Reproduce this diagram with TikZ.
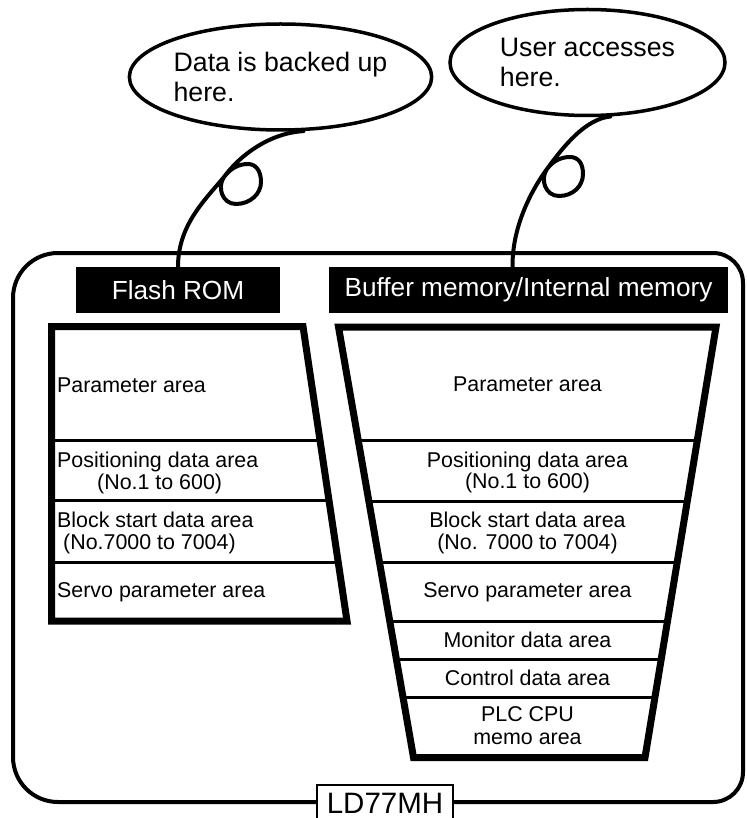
\documentclass[tikz,border=0pt]{standalone}
\usepackage{fontspec}
\setmainfont{Liberation Sans}
\usetikzlibrary{shapes.geometric,calc}
\tikzset{
  body/.style={font=\fontsize{21.4}{22}\selectfont, inner sep=0pt, align=center},
  bodyl/.style={font=\fontsize{21.4}{22}\selectfont, inner sep=0pt, align=left, anchor=west},
  hdr/.style={fill=black, text=white, font=\fontsize{26.2}{30}\selectfont, inner sep=0pt, minimum height=46pt},
  bubble/.style={ellipse, draw, line width=3.5pt, minimum width=275pt, minimum height=106pt, inner sep=0pt, align=left, font=\fontsize{26.7}{30}\selectfont},
  tailline/.style={line width=4pt, line cap=round},
  outerframe/.style={line width=4pt},
  memborder/.style={line width=7pt, line join=miter},
  rowline/.style={line width=3pt},
  modlabel/.style={draw, fill=white, line width=2pt, minimum width=136pt, inner xsep=0pt, inner ysep=8pt, font=\fontsize{29.5}{32}\selectfont}
}
\begin{document}
\begin{tikzpicture}[x=1pt, y=-1pt]
\useasboundingbox (0,0) rectangle (746,818);
\clip (0,0) rectangle (746,818);

% outer module frame
\draw[outerframe] (13,298) .. controls (13,273.1) and (33.1,253) .. (58,253)
  -- (713,253) .. controls (729.6,253) and (743,266.4) .. (743,283)
  -- (743,772) .. controls (743,788.6) and (729.6,802) .. (713,802)
  -- (58,802) .. controls (33.1,802) and (13,781.9) .. (13,757) -- cycle;

% module label
\node[modlabel, anchor=north] (ld) at (385,784) {LD77MH};

% headers
\node[hdr, minimum width=204pt] (h1) at (178,290) {Flash ROM};
\node[hdr, minimum width=399pt] (h2) at (528.5,290) {Buffer memory/Internal memory};

% callouts
\node[bubble] (c1) at (280.5,77) {Data is backed up\\here.};
\node[bubble] (c2) at (587.5,62.5) {User accesses\\here.};

\coordinate (t1s) at (c1.-67);
\coordinate (t2s) at (c2.-67);
\coordinate (h2top) at ($(h2.north west)!0.46!(h2.north east)$);

\draw[tailline] (t1s) .. controls (270,133) and (240,155) .. (224,177)
  .. controls (217,187) and (222,204) .. (236,204)
  .. controls (250,204) and (261,194) .. (261,182)
  .. controls (261,171) and (256,164) .. (248,164)
  .. controls (238,164) and (230,169) .. (224,177)
  .. controls (205,200) and (178,225) .. (h1.north);

\draw[tailline] (t2s) .. controls (585,119) and (563,147) .. (547,169)
  .. controls (540,179) and (545,196) .. (559,196)
  .. controls (573,196) and (583,186) .. (583,174)
  .. controls (583,163) and (578,157) .. (570,157)
  .. controls (561,157) and (553,161) .. (547,169)
  .. controls (533,188) and (512,225) .. (h2top);

% Flash ROM block
\coordinate (LA) at (51.5,326.5);
\coordinate (LB) at (303,326.5);
\coordinate (LC) at (347,621);
\coordinate (LD) at (51.5,621);
\foreach \t in {0.3854,0.5925,0.8014}
  \draw[rowline] ($(LA)!\t!(LD)$) -- ($(LB)!\t!(LC)$);
\draw[memborder] (LA) -- (LB) -- (LC) -- (LD) -- cycle;

\node[bodyl] (f1) at (57,385.7) {Parameter area};
\node[bodyl] (f2) at (57,472.5) {Positioning data area\\\hspace*{40pt}(No.1 to 600)};
\node[bodyl] (f3) at (57,532.7) {Block start data area\\\hspace*{6pt}(No.7000 to 7004)};
\node[bodyl] (f4) at (57,592.7) {Servo parameter area};

% Buffer memory block
\coordinate (RA) at (338.5,327);
\coordinate (RB) at (716,327);
\coordinate (RC) at (645,757.5);
\coordinate (RD) at (413.5,757.5);
\foreach \t in {0.2625,0.4042,0.5459,0.6852,0.7712,0.8595}
  \draw[rowline] ($(RA)!\t!(RD)$) -- ($(RB)!\t!(RC)$);
\draw[memborder] (RA) -- (RB) -- (RC) -- (RD) -- cycle;

\node[body] (b1) at (527.5,384.7) {Parameter area};
\node[body, font=\fontsize{21.4}{21}\selectfont] (b2) at (527.5,472.5) {Positioning data area\\(No.1 to 600)};
\node[body] (b3) at (527.5,532.7) {Block start data area\\(No. 7000 to 7004)};
\node[body] (b4) at (527.5,592.7) {Servo parameter area};
\node[body] (b5) at (527.5,639.5) {Monitor data area};
\node[body] (b6) at (527.5,677.5) {Control data area};
\node[body, font=\fontsize{21.4}{23}\selectfont] (b7) at (527.5,726) {PLC CPU\\memo area};
\end{tikzpicture}
\end{document}
